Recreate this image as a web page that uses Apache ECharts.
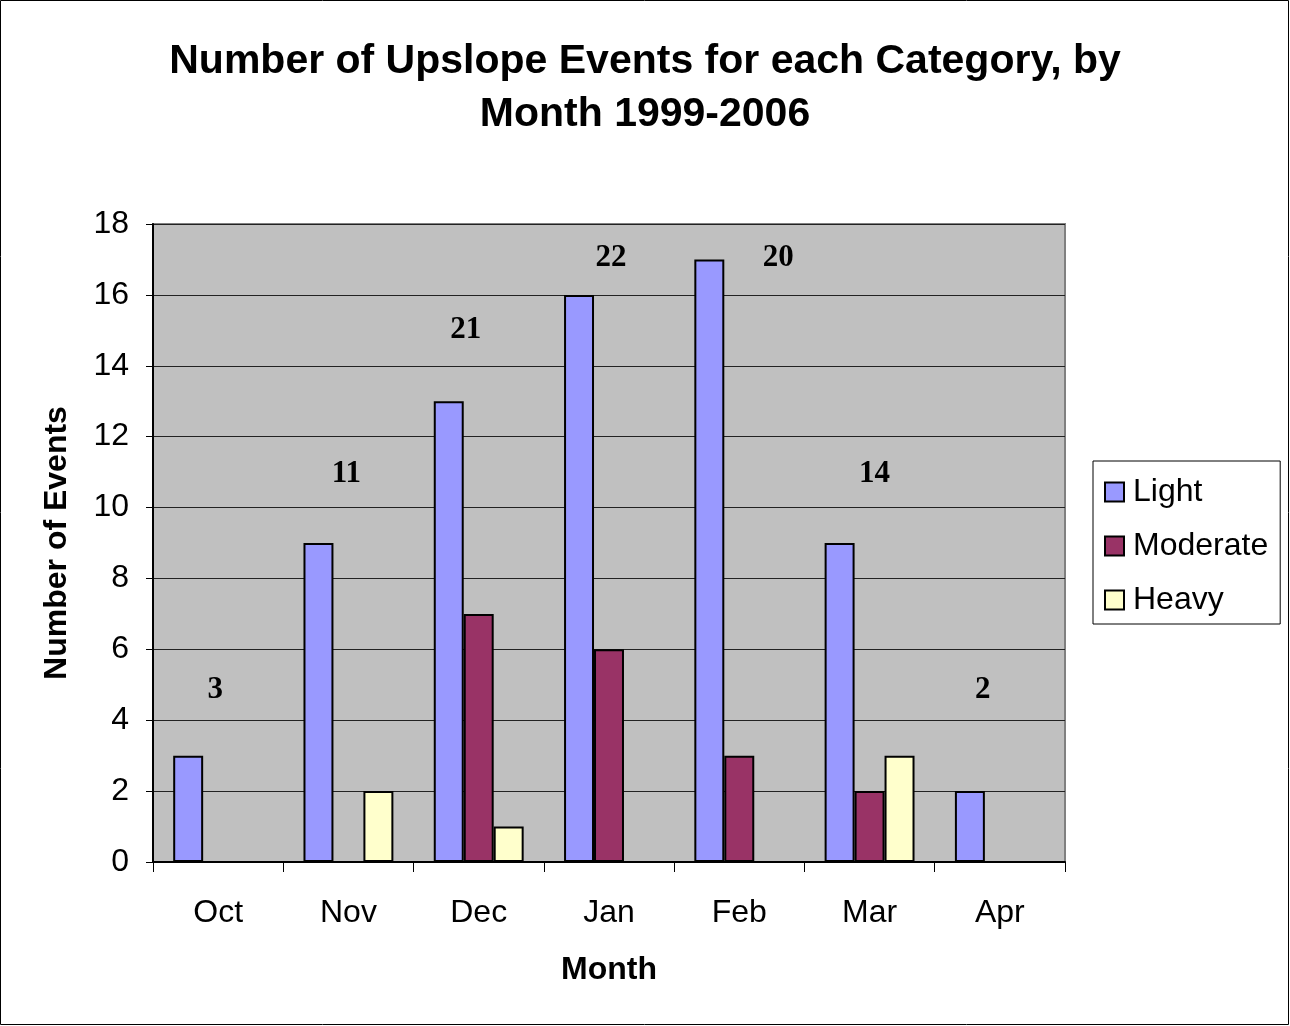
<!DOCTYPE html>
<html>
<head>
<meta charset="utf-8">
<script src="https://cdn.jsdelivr.net/npm/echarts@6/dist/echarts.min.js"></script>
<style>
  html, body { margin: 0; padding: 0; background: #fff; overflow: hidden; }
  #chart { width: 1290px; height: 1026px; }
</style>
</head>
<body>
<div id="chart"></div>
<script>
// data
const months = ['Oct', 'Nov', 'Dec', 'Jan', 'Feb', 'Mar', 'Apr']
const light = [3, 9, 13, 16, 17, 9, 2]
const moderate = [0, 0, 7, 6, 3, 2, 0]
const heavy = [0, 2, 1, 0, 0, 3, 0]
// height (in events) where the total annotation sits
const totalLabelAt = [4.85, 10.95, 15, 17.05, 17.05, 10.95, 4.85]
const labelNudge = [-3, -2, -13, 2, 39, 5, -17]

const totals = months.map((m, i) => light[i] + moderate[i] + heavy[i])

const chart = echarts.init(document.getElementById('chart'))

const barStyle = (color) => ({
  color: color,
  borderColor: '#000',
  borderWidth: 2
})

// zero-height bars stay out of the picture
const nz = (arr) => arr.map(v => (v === 0 ? '-' : v))

chart.setOption({
  animation: false,
  backgroundColor: '#fff',
  textStyle: { fontFamily: 'Arial, "Liberation Sans", sans-serif' },
  title: {
    text: 'Number of Upslope Events for each Category, by\nMonth 1999-2006',
    left: 'center',
    top: 30,
    textStyle: {
      fontSize: 41,
      fontWeight: 'bold',
      color: '#000',
      lineHeight: 53,
      fontFamily: 'Arial, "Liberation Sans", sans-serif'
    }
  },
  legend: {
    orient: 'vertical',
    left: 1093,
    top: 461,
    width: 187,
    padding: [15, 12, 8, 11],
    itemGap: 22,
    itemWidth: 19,
    itemHeight: 19,
    backgroundColor: '#fff',
    borderColor: '#000',
    borderWidth: 1,
    borderRadius: 0,
    icon: 'rect',
    data: ['Light', 'Moderate', 'Heavy'],
    textStyle: {
      fontSize: 32,
      color: '#000',
      padding: [0, 0, 0, 4]
    }
  },
  grid: {
    left: 153,
    right: 225,
    top: 224,
    bottom: 164,
    show: true,
    backgroundColor: '#c0c0c0',
    borderColor: '#808080',
    borderWidth: 2
  },
  xAxis: {
    type: 'category',
    data: months,
    name: 'Month',
    nameLocation: 'middle',
    nameGap: 92,
    nameTextStyle: { fontSize: 32, fontWeight: 'bold', color: '#000' },
    axisLine: { lineStyle: { color: '#000', width: 2 } },
    axisTick: { show: true, length: 10, lineStyle: { color: '#000', width: 1 } },
    axisLabel: { fontSize: 32, color: '#000', margin: 35 },
    splitLine: { show: false }
  },
  yAxis: {
    type: 'value',
    min: 0,
    max: 18,
    interval: 2,
    name: 'Number of Events',
    nameLocation: 'middle',
    nameGap: 80,
    nameTextStyle: { fontSize: 32, fontWeight: 'bold', color: '#000' },
    axisLine: { show: true, lineStyle: { color: '#000', width: 2 } },
    axisTick: { show: true, length: 7, lineStyle: { color: '#000', width: 1 } },
    axisLabel: { fontSize: 32, color: '#000', margin: 24 },
    splitLine: { show: true, lineStyle: { color: '#222', width: 1 } }
  },
  series: [
    {
      name: 'Light',
      type: 'bar',
      data: nz(light),
      barGap: '0%',
      barCategoryGap: '31%',
      itemStyle: barStyle('#9999ff')
    },
    {
      name: 'Moderate',
      type: 'bar',
      data: nz(moderate),
      barGap: '0%',
      barCategoryGap: '31%',
      itemStyle: barStyle('#993366')
    },
    {
      name: 'Heavy',
      type: 'bar',
      data: nz(heavy),
      barGap: '0%',
      barCategoryGap: '31%',
      itemStyle: barStyle('#ffffcc')
    },
    {
      name: 'totals',
      type: 'scatter',
      symbolSize: 1,
      itemStyle: { opacity: 0 },
      silent: true,
      z: 5,
      data: months.map((m, i) => ({
        value: [m, totalLabelAt[i]],
        label: {
          show: true,
          position: 'inside',
          offset: [labelNudge[i], 0],
          formatter: String(totals[i]),
          fontFamily: '"Liberation Serif", "Times New Roman", serif',
          fontWeight: 'bold',
          fontSize: 31,
          color: '#000',
          opacity: 1
        }
      }))
    }
  ],
  graphic: [
    {
      type: 'rect',
      shape: { x: 0.5, y: 0.5, width: 1288, height: 1024 },
      style: { fill: 'none', stroke: '#000', lineWidth: 1 },
      silent: true,
      z: 100
    }
  ]
})
</script>
</body>
</html>
